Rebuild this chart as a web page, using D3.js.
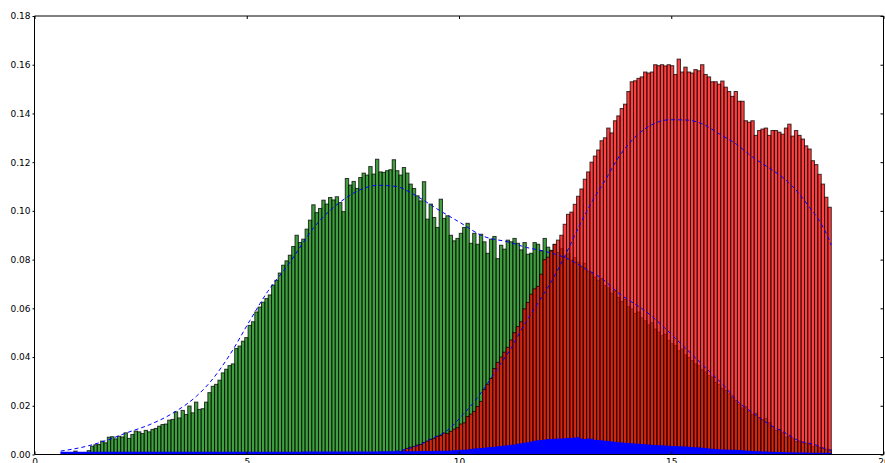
<!DOCTYPE html>
<html>
<head>
<meta charset="utf-8">
<script src="https://cdnjs.cloudflare.com/ajax/libs/d3/7.8.5/d3.min.js"></script>
<style>
  html, body { margin: 0; padding: 0; background: #ffffff; }
  svg { display: block; }
  text { font-family: "DejaVu Sans", sans-serif; }
</style>
</head>
<body>
<svg id="chart" width="885" height="463"></svg>
<script>
// Histogram bin range shared by all three series
const binStart = 0.61;
const binEnd = 18.77;

// Normalised counts per bin, green series
const greenCounts = [
  0, 0, 0, 0, 0.0014, 0, 0.0005, 0, 0.0016, 0.0034,
  0.004, 0.0041, 0.0055, 0.0048, 0.0071, 0.0073, 0.0064, 0.0075, 0.0072, 0.0089,
  0.0066, 0.0082, 0.0096, 0.0093, 0.0086, 0.0099, 0.0093, 0.0103, 0.0107, 0.0116,
  0.0123, 0.0125, 0.0141, 0.0144, 0.0175, 0.015, 0.0181, 0.0164, 0.0199, 0.0171,
  0.0215, 0.0185, 0.0188, 0.0215, 0.0254, 0.028, 0.0288, 0.0305, 0.0335, 0.035,
  0.0365, 0.0372, 0.0435, 0.0445, 0.0465, 0.048, 0.053, 0.0545, 0.0585, 0.0605,
  0.0625, 0.064, 0.0655, 0.0695, 0.0715, 0.0745, 0.0777, 0.0795, 0.0818, 0.0854,
  0.090, 0.087, 0.0884, 0.0925, 0.0962, 0.1025, 0.0993, 0.101, 0.1044, 0.1028,
  0.1055, 0.1045, 0.1058, 0.1034, 0.0997, 0.1133, 0.1106, 0.1121, 0.1092, 0.1137,
  0.1155, 0.1147, 0.1182, 0.1151, 0.1212, 0.116, 0.1158, 0.1165, 0.1169, 0.121,
  0.1165, 0.1147, 0.1178, 0.1155, 0.111, 0.1092, 0.1062, 0.1041, 0.112, 0.0966,
  0.1028, 0.0973, 0.0932, 0.1048, 0.0969, 0.098, 0.090, 0.0877, 0.0887, 0.0908,
  0.0932, 0.0949, 0.0867, 0.0908, 0.0863, 0.0904, 0.0873, 0.0826, 0.0884, 0.0895,
  0.0804, 0.0859, 0.0843, 0.088, 0.0873, 0.0887, 0.0867, 0.084, 0.087, 0.0822,
  0.0826, 0.087, 0.0863, 0.0836, 0.0887, 0.0851, 0.0838, 0.0862, 0.0829, 0.0845,
  0.0812, 0.0826, 0.0797, 0.0808, 0.0789, 0.0771, 0.0785, 0.0752, 0.0746, 0.0728,
  0.0715, 0.0722, 0.0693, 0.0684, 0.0662, 0.0671, 0.0645, 0.0628, 0.0636, 0.0607,
  0.0598, 0.0579, 0.0585, 0.0561, 0.0549, 0.0532, 0.0541, 0.0515, 0.0502, 0.0488,
  0.0494, 0.0468, 0.0455, 0.0447, 0.0426, 0.0433, 0.0409, 0.0398, 0.0386, 0.0372,
  0.0365, 0.0348, 0.0339, 0.0324, 0.0318, 0.0297, 0.0288, 0.0271, 0.0263, 0.0249,
  0.0236, 0.0222, 0.0205, 0.0191, 0.0196, 0.0178, 0.0164, 0.0169, 0.0151, 0.0142,
  0.0148, 0.0131, 0.0115, 0.0099, 0.0102, 0.0089, 0.0072, 0.0075, 0.0064, 0.0053,
  0.0055, 0.0049, 0.0046, 0.0041, 0.0033, 0.0035, 0.0029, 0.0026, 0.0022, 0.0019
];

// Normalised counts per bin, red series
const redCounts = [
  0, 0, 0, 0, 0, 0, 0, 0, 0, 0,
  0, 0, 0, 0, 0, 0, 0, 0, 0, 0,
  0, 0, 0, 0, 0, 0, 0, 0, 0, 0,
  0, 0, 0, 0, 0, 0, 0, 0, 0, 0,
  0, 0, 0, 0, 0, 0, 0, 0, 0, 0,
  0, 0, 0, 0, 0, 0, 0, 0, 0, 0,
  0, 0, 0, 0, 0, 0, 0, 0, 0, 0,
  0, 0, 0, 0, 0, 0, 0, 0, 0, 0,
  0, 0, 0, 0, 0, 0, 0, 0, 0, 0,
  0, 0, 0, 0, 0, 0, 0, 0, 0, 0,
  0.0008, 0.0012, 0.0018, 0.0025, 0.003, 0.0033, 0.0039, 0.0041, 0.0049, 0.0055,
  0.0062, 0.0066, 0.0074, 0.0078, 0.0088, 0.0086, 0.0095, 0.0104, 0.011, 0.0125,
  0.013, 0.0156, 0.0166, 0.0177, 0.0197, 0.0218, 0.0267, 0.0288, 0.0312, 0.0353,
  0.0378, 0.040, 0.042, 0.044, 0.047, 0.050, 0.0525, 0.0545, 0.0598, 0.0624,
  0.0658, 0.068, 0.069, 0.074, 0.080, 0.081, 0.0836, 0.0863, 0.088, 0.090,
  0.0945, 0.0986, 0.0995, 0.1027, 0.106, 0.109, 0.113, 0.116, 0.120, 0.1225,
  0.125, 0.1288, 0.130, 0.134, 0.132, 0.137, 0.139, 0.142, 0.1438, 0.149,
  0.153, 0.1534, 0.1544, 0.155, 0.157, 0.1566, 0.157, 0.160, 0.1596, 0.160,
  0.1595, 0.160, 0.1596, 0.156, 0.1623, 0.157, 0.159, 0.157, 0.1566, 0.158,
  0.1575, 0.160, 0.156, 0.155, 0.153, 0.153, 0.152, 0.1533, 0.1508, 0.149,
  0.147, 0.149, 0.145, 0.145, 0.137, 0.1364, 0.137, 0.131, 0.133, 0.1336,
  0.134, 0.131, 0.133, 0.133, 0.1323, 0.1315, 0.134, 0.1356, 0.1307, 0.133,
  0.131, 0.1295, 0.1267, 0.1254, 0.1206, 0.119, 0.115, 0.111, 0.1056, 0.1015
];

// Normalised counts per bin, blue series (filled step outline)
const blueCounts = [
  0.0011, 0.0011, 0.0011, 0.0011, 0.0011, 0.0011, 0.0011, 0.0011, 0.0011, 0.0011,
  0.0011, 0.0011, 0.0011, 0.0011, 0.0011, 0.0011, 0.0011, 0.0011, 0.0011, 0.0011,
  0.0011, 0.0011, 0.0011, 0.0011, 0.0011, 0.0011, 0.0011, 0.0011, 0.0011, 0.0011,
  0.0011, 0.0011, 0.0011, 0.0011, 0.0011, 0.0011, 0.0011, 0.0011, 0.0011, 0.0011,
  0.0011, 0.0011, 0.0011, 0.0011, 0.0011, 0.0011, 0.0011, 0.0011, 0.0011, 0.0011,
  0.0011, 0.0011, 0.0011, 0.0011, 0.0011, 0.0011, 0.0011, 0.0011, 0.0011, 0.0011,
  0.0011, 0.0011, 0.0011, 0.0011, 0.0011, 0.0011, 0.0011, 0.0011, 0.0011, 0.0011,
  0.0011, 0.0011, 0.0012, 0.0012, 0.0012, 0.0012, 0.0012, 0.0012, 0.0012, 0.0012,
  0.0012, 0.0012, 0.0012, 0.0012, 0.0012, 0.0012, 0.0012, 0.0012, 0.0012, 0.0012,
  0.0012, 0.0012, 0.0012, 0.0012, 0.0012, 0.0013, 0.0013, 0.0013, 0.0013, 0.0013,
  0.0013, 0.0013, 0.0013, 0.0013, 0.0013, 0.0013, 0.0013, 0.0014, 0.0014, 0.0014,
  0.0014, 0.0014, 0.0015, 0.0015, 0.0015, 0.0015, 0.0016, 0.0017, 0.0018, 0.0019,
  0.002, 0.0021, 0.0023, 0.0025, 0.0026, 0.0027, 0.0028, 0.003, 0.0031, 0.0032,
  0.0034, 0.0035, 0.0037, 0.0038, 0.004, 0.0041, 0.0044, 0.0046, 0.0048, 0.005,
  0.0053, 0.0056, 0.0059, 0.006, 0.0062, 0.0064, 0.0064, 0.0065, 0.0066, 0.0066,
  0.0067, 0.0068, 0.0068, 0.007, 0.0071, 0.0066, 0.0064, 0.0066, 0.0065, 0.0061,
  0.006, 0.0059, 0.0056, 0.0055, 0.0053, 0.0052, 0.005, 0.0049, 0.0048, 0.0047,
  0.0046, 0.0045, 0.0044, 0.0043, 0.0042, 0.0041, 0.004, 0.0039, 0.0038, 0.0038,
  0.0037, 0.0036, 0.0035, 0.0035, 0.0034, 0.0034, 0.0033, 0.0032, 0.0031, 0.003,
  0.003, 0.0028, 0.0027, 0.0025, 0.0024, 0.0023, 0.0022, 0.0021, 0.0021, 0.002,
  0.002, 0.0019, 0.0018, 0.0017, 0.0016, 0.0015, 0.0014, 0.0013, 0.0013, 0.0012,
  0.0012, 0.0011, 0.0011, 0.001, 0.001, 0.001, 0.0009, 0.0009, 0.0009, 0.0008,
  0.0008, 0.0008, 0.0008, 0.0007, 0.0007, 0.0007, 0.0007, 0.0007, 0.0007, 0.0007
];

// Fitted density curve for the green series
const greenFitX = [0.617, 1.229, 1.700, 2.171, 2.719, 3.261, 3.819, 4.132, 4.603, 5.074,
  5.497, 5.938, 6.644, 7.310, 7.663, 8.087, 8.527, 8.881, 9.234, 9.429,
  10.018, 10.559, 11.195, 11.588, 11.972, 12.607, 13.001, 13.385, 13.707, 14.491,
  14.844, 15.197, 15.550, 15.903, 16.256, 16.562, 16.916, 17.316, 17.669, 18.022,
  18.375, 18.681, 18.769];
const greenFitY = [0.0014, 0.0034, 0.0058, 0.0089, 0.0123, 0.017, 0.024, 0.0296, 0.041, 0.055,
  0.067, 0.077, 0.0945, 0.105, 0.1086, 0.1105, 0.110, 0.1073, 0.1036, 0.1014,
  0.0953, 0.0897, 0.0871, 0.085, 0.0836, 0.080, 0.076, 0.072, 0.067, 0.0575,
  0.052, 0.046, 0.040, 0.034, 0.028, 0.0218, 0.0172, 0.0123, 0.009, 0.0055,
  0.0041, 0.002, 0.0017];

// Fitted density curve for the red series
const redFitX = [7.663, 8.205, 8.527, 8.998, 9.389, 9.705, 10.095, 10.371, 10.764, 11.000,
  11.235, 11.430, 11.941, 12.207, 12.450, 12.607, 12.796, 13.001, 13.156, 13.391,
  13.784, 14.178, 14.569, 14.962, 15.355, 15.746, 16.139, 16.532, 16.923, 17.316,
  17.709, 18.022, 18.258, 18.493, 18.729, 18.769];
const redFitY = [0.0001, 0.0006, 0.0014, 0.0034, 0.0068, 0.0096, 0.0164, 0.0219, 0.0315, 0.0377,
  0.0438, 0.050, 0.0644, 0.0719, 0.080, 0.0855, 0.0925, 0.0995, 0.1045, 0.111,
  0.1226, 0.1308, 0.1356, 0.1374, 0.1373, 0.1356, 0.1315, 0.1274, 0.122, 0.1175,
  0.1125, 0.1069, 0.1014, 0.0959, 0.0877, 0.086];

// Axis ticks
const xTicks = [0, 5, 10, 15, 20];
const yTicks = [0, 0.02, 0.04, 0.06, 0.08, 0.10, 0.12, 0.14, 0.16, 0.18];

const svg = d3.select("#chart");
const x = d3.scaleLinear().domain([0, 20]).range([34.5, 883.5]);
const y = d3.scaleLinear().domain([0, 0.18]).range([454.5, 16]);

const nBins = greenCounts.length;
const edges = d3.range(nBins + 1).map(i => binStart + (binEnd - binStart) * i / nBins);
const toBins = arr => arr.map((v, i) => ({ x0: edges[i], x1: edges[i + 1], v }));

svg.append("defs").append("clipPath").attr("id", "plotClip")
  .append("rect")
  .attr("x", x(0)).attr("y", y(0.18))
  .attr("width", x(20) - x(0)).attr("height", y(0) - y(0.18));

const plot = svg.append("g").attr("clip-path", "url(#plotClip)");

function drawBars(cls, counts, fill) {
  plot.append("g").attr("class", cls)
    .selectAll("rect")
    .data(toBins(counts).filter(d => d.v > 0))
    .join("rect")
    .attr("x", d => x(d.x0))
    .attr("width", d => x(d.x1) - x(d.x0))
    .attr("y", d => y(d.v))
    .attr("height", d => y(0) - y(d.v))
    .attr("fill", fill)
    .attr("stroke", "rgba(0,0,0,0.75)")
    .attr("stroke-width", 1);
}

drawBars("green-bars", greenCounts, "rgba(0,128,0,0.75)");
drawBars("red-bars", redCounts, "rgba(255,0,0,0.75)");

// Blue filled step histogram
const bluePts = blueCounts.map((v, i) => ({ x: edges[i], v }));
bluePts.push({ x: edges[nBins], v: blueCounts[nBins - 1] });
plot.append("path")
  .datum(bluePts)
  .attr("fill", "#0000ff")
  .attr("stroke", "none")
  .attr("d", d3.area()
    .x(d => x(d.x))
    .y0(y(0))
    .y1(d => y(d.v))
    .curve(d3.curveStepAfter));

// Dashed fitted curves
const fitLine = d3.line().x(d => x(d[0])).y(d => y(d[1])).curve(d3.curveMonotoneX);
[[greenFitX, greenFitY], [redFitX, redFitY]].forEach(([xs, ys]) => {
  plot.append("path")
    .datum(xs.map((v, i) => [v, ys[i]]))
    .attr("fill", "none")
    .attr("stroke", "#0000ff")
    .attr("stroke-width", 1)
    .attr("stroke-dasharray", "4,3")
    .attr("d", fitLine);
});

// Axes with ticks pointing into the plot
const fmtY = d3.format(".2f");
const axB = svg.append("g").attr("transform", `translate(0,${y(0)})`)
  .call(d3.axisBottom(x).tickValues(xTicks).tickSizeInner(-3).tickSizeOuter(0).tickPadding(4).tickFormat(d3.format("d")));
const axT = svg.append("g").attr("transform", `translate(0,${y(0.18)})`)
  .call(d3.axisTop(x).tickValues(xTicks).tickSizeInner(-3).tickSizeOuter(0).tickFormat(""));
const axL = svg.append("g").attr("transform", `translate(${x(0)},0)`)
  .call(d3.axisLeft(y).tickValues(yTicks).tickSizeInner(2).tickSizeOuter(0).tickPadding(2).tickFormat(fmtY));
const axR = svg.append("g").attr("transform", `translate(${x(20)},0)`)
  .call(d3.axisRight(y).tickValues(yTicks).tickSizeInner(-3).tickSizeOuter(0).tickFormat(""));

[axB, axT, axL, axR].forEach(a => {
  a.select(".domain").remove();
  a.selectAll(".tick line").attr("stroke", "#000").attr("stroke-width", 1);
  a.selectAll("text").attr("fill", "#000").style("font-size", "9px").style("font-family", "'DejaVu Sans', sans-serif");
});

// Frame
svg.append("line").attr("x1", x(0)).attr("x2", x(20)).attr("y1", y(0.18)).attr("y2", y(0.18))
  .attr("stroke", "#000").attr("stroke-width", 1);
svg.append("line").attr("x1", x(0)).attr("x2", x(20)).attr("y1", y(0)).attr("y2", y(0))
  .attr("stroke", "#000").attr("stroke-width", 1);
svg.append("line").attr("x1", x(0)).attr("x2", x(0)).attr("y1", y(0.18)).attr("y2", y(0))
  .attr("stroke", "#000").attr("stroke-width", 1);
svg.append("line").attr("x1", x(20)).attr("x2", x(20)).attr("y1", y(0.18)).attr("y2", y(0))
  .attr("stroke", "#000").attr("stroke-width", 1);
</script>
</body>
</html>
